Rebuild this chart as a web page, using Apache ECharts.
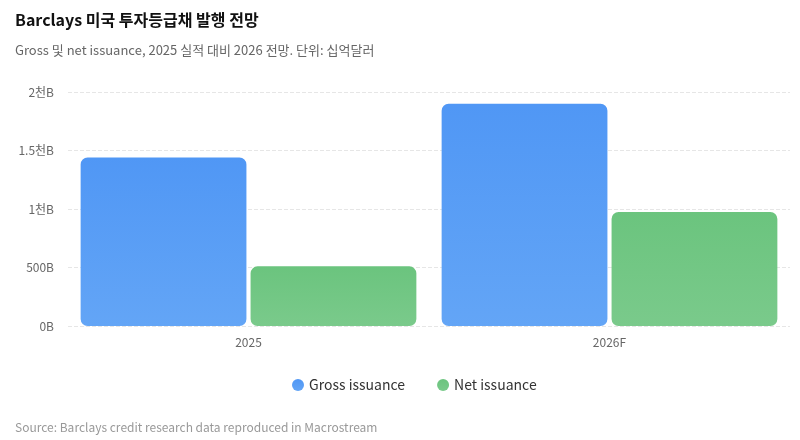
<!DOCTYPE html>
<html><head><meta charset="utf-8">
<script src="https://cdn.jsdelivr.net/npm/echarts@6/dist/echarts.min.js"></script>
<style>html,body{margin:0;padding:0;background:#fff}#c{width:800px;height:440px}</style>
</head><body><div id="c"></div>
<script>
const categories = ['2025', '2026F'];
const grossIssuance = [1440, 1900];
const netIssuance = [510, 975];
const yTicks = ['0B', '500B', '1천B', '1.5천B', '2천B'];

const FONT = '"Noto Sans CJK KR", "Noto Sans", sans-serif';
const chart = echarts.init(document.getElementById('c'));
function grad(top, bottom) {
  return new echarts.graphic.LinearGradient(0, 0, 0, 1, [
    { offset: 0, color: top }, { offset: 1, color: bottom }
  ]);
}
chart.setOption({
  backgroundColor: '#fff',
  textStyle: { fontFamily: FONT },
  title: [
    { text: 'Barclays 미국 투자등급채 발행 전망', left: 10, top: 7,
      textStyle: { fontSize: 16, fontWeight: 'bold', color: '#111', fontFamily: FONT } },
    { text: 'Gross 및 net issuance, 2025 실적 대비 2026 전망. 단위: 십억달러', left: 10, top: 39,
      textStyle: { fontSize: 13, fontWeight: 'normal', color: '#666', fontFamily: FONT } },
    { text: 'Source: Barclays credit research data reproduced in Macrostream', left: 10, top: 416,
      textStyle: { fontSize: 12, fontWeight: 'normal', color: '#999', fontFamily: FONT } }
  ],
  legend: {
    bottom: 43, left: 287, icon: 'circle', itemWidth: 12, itemHeight: 12, itemGap: 32,
    textStyle: { fontSize: 14, color: '#333', fontFamily: FONT },
    data: ['Gross issuance', 'Net issuance']
  },
  grid: { left: 68, right: 10, top: 92, bottom: 114 },
  xAxis: {
    type: 'category', data: categories,
    axisLine: { show: false }, axisTick: { show: false },
    axisLabel: { color: '#666', fontSize: 12, margin: 10 }
  },
  yAxis: {
    type: 'value', min: 0, max: 2000, interval: 500,
    axisLine: { show: false }, axisTick: { show: false },
    axisLabel: { color: '#666', fontSize: 12, margin: 14,
      formatter: (v) => yTicks[Math.round(v / 500)] },
    splitLine: { lineStyle: { type: 'dashed', color: '#e6e6e6' } }
  },
  series: [
    { name: 'Gross issuance', type: 'bar', data: grossIssuance,
      barGap: '2.5%', barCategoryGap: '7%',
      itemStyle: { color: grad('#5097f5', '#63a5f6'), borderRadius: 7 } },
    { name: 'Net issuance', type: 'bar', data: netIssuance,
      itemStyle: { color: grad('#6bc47e', '#7aca8b'), borderRadius: 7 } }
  ]
});
</script></body></html>
